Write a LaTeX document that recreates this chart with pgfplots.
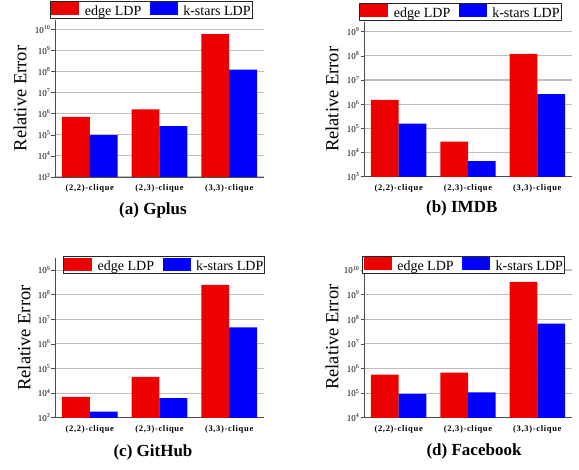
\documentclass[border=0pt]{standalone}
\usepackage{fontspec}
\setmainfont{Liberation Serif}
\newfontfamily\tickfont[LetterSpace=8]{Liberation Serif}
\usepackage{pgfplots}
\pgfplotsset{compat=1.18}
\definecolor{barred}{RGB}{236,0,0}
\definecolor{barblue}{RGB}{0,0,255}
\definecolor{gridgray}{RGB}{190,190,190}
\pgfplotsset{
  cliquebars/.style={
    scale only axis,
    anchor=south west,
    ybar,
    bar width=0.4,
    xmin=-0.5, xmax=2.5,
    xtick={0,1,2},
    xticklabels={(2,2)-clique,(2,3)-clique,(3,3)-clique},
    xticklabel style={font=\tickfont\fontsize{8.5}{9}\selectfont\bfseries, yshift=-1pt},
    x tick style={draw=none},
    axis x line*=bottom,
    axis y line*=left,
    axis line style={draw=black!70, line width=0.8pt, -},
    y tick style={draw=black!70, line width=0.6pt},
    tick align=outside,
    major tick length=3.5pt,
    yminorticks=false,
    yticklabel style={font=\fontsize{9}{9}\selectfont, inner sep=1pt},
    ymajorgrids,
    grid style={gridgray, line width=1.1pt},
    ylabel={Relative Error},
    ylabel style={font=\fontsize{18.5}{19}\selectfont, anchor=center},
    legend columns=2,
    legend style={draw=black!85, line width=0.9pt, inner sep=1pt, anchor=north west,
      font=\fontsize{14}{14}\selectfont,
      nodes={inner sep=0.5pt},
      /tikz/every odd column/.append style={column sep=5pt},
      /tikz/every even column/.append style={column sep=8pt}},
    legend image code/.code={\fill[##1] (0pt,-4pt) rectangle (28pt,9pt);},
    title style={font=\fontsize{17}{17}\selectfont\bfseries, anchor=center},
  },
  redbar/.style={fill=barred, draw=none, bar shift=-0.2},
  bluebar/.style={fill=barblue, draw=none, bar shift=0.2},
}
\begin{document}
\begin{tikzpicture}
\path (0,0) rectangle (579pt,470pt);

% (a) Gplus
\begin{semilogyaxis}[cliquebars,
  at={(55pt,293pt)}, width=209pt, height=157pt,
  ymin=1e3, ymax=2.82e10,
  ytick={1e3,1e4,1e5,1e6,1e7,1e8,1e9,1e10},
  yticklabels={10\textsuperscript{3},10\textsuperscript{4},10\textsuperscript{5},10\textsuperscript{6},10\textsuperscript{7},10\textsuperscript{8},10\textsuperscript{9},10\textsuperscript{10}},
  ylabel style={at={(axis description cs:-0.167,0.5)}},
  legend style={at={(axis description cs:-0.024,1.121)}},
  title={(a) Gplus}, title style={at={(axis description cs:0.469,-0.248)}},
]
\addplot[redbar] coordinates {(0,7.2e5) (1,1.6e6) (2,6.0e9)};
\addplot[bluebar] coordinates {(0,9.6e4) (1,2.6e5) (2,1.24e8)};
\legend{edge LDP,k-stars LDP}
\end{semilogyaxis}

% (b) IMDB
\begin{semilogyaxis}[cliquebars,
  at={(364pt,293.3pt)}, width=208pt, height=154.7pt,
  ymin=1e3, ymax=2.51e9,
  ytick={1e3,1e4,1e5,1e6,1e7,1e8,1e9},
  yticklabels={10\textsuperscript{3},10\textsuperscript{4},10\textsuperscript{5},10\textsuperscript{6},10\textsuperscript{7},10\textsuperscript{8},10\textsuperscript{9}},
  ylabel style={at={(axis description cs:-0.154,0.5)}},
  legend style={at={(axis description cs:-0.024,1.123)}},
  title={(b) IMDB}, title style={at={(axis description cs:0.47,-0.246)}},
]
\addplot[redbar] coordinates {(0,1.5e6) (1,2.8e4) (2,1.2e8)};
\addplot[bluebar] coordinates {(0,1.56e5) (1,4.4e3) (2,2.6e6)};
\legend{edge LDP,k-stars LDP}
\end{semilogyaxis}

% (c) GitHub
\begin{semilogyaxis}[cliquebars,
  at={(55pt,52.3pt)}, width=209pt, height=159.4pt,
  ymin=1e3, ymax=3.02e9,
  ytick={1e3,1e4,1e5,1e6,1e7,1e8,1e9},
  yticklabels={10\textsuperscript{3},10\textsuperscript{4},10\textsuperscript{5},10\textsuperscript{6},10\textsuperscript{7},10\textsuperscript{8},10\textsuperscript{9}},
  ylabel style={at={(axis description cs:-0.148,0.5)}},
  legend style={at={(axis description cs:0.037,1.014)}},
  title={(c) GitHub}, title style={at={(axis description cs:0.469,-0.253)}},
]
\addplot[redbar] coordinates {(0,7.1e3) (1,4.6e4) (2,2.5e8)};
\addplot[bluebar] coordinates {(0,1.75e3) (1,6.3e3) (2,4.7e6)};
\legend{edge LDP,k-stars LDP}
\end{semilogyaxis}

% (d) Facebook
\begin{semilogyaxis}[cliquebars,
  at={(364pt,52.3pt)}, width=208pt, height=161pt,
  ymin=1e4, ymax=3.47e10,
  ytick={1e4,1e5,1e6,1e7,1e8,1e9,1e10},
  yticklabels={10\textsuperscript{4},10\textsuperscript{5},10\textsuperscript{6},10\textsuperscript{7},10\textsuperscript{8},10\textsuperscript{9},10\textsuperscript{10}},
  ylabel style={at={(axis description cs:-0.154,0.5)}},
  legend style={at={(axis description cs:-0.008,1.004)}},
  title={(d) Facebook}, title style={at={(axis description cs:0.529,-0.244)}},
]
\addplot[redbar] coordinates {(0,5.6e5) (1,6.7e5) (2,3.3e9)};
\addplot[bluebar] coordinates {(0,9.2e4) (1,1.07e5) (2,6.6e7)};
\legend{edge LDP,k-stars LDP}
\end{semilogyaxis}
\end{tikzpicture}
\end{document}
